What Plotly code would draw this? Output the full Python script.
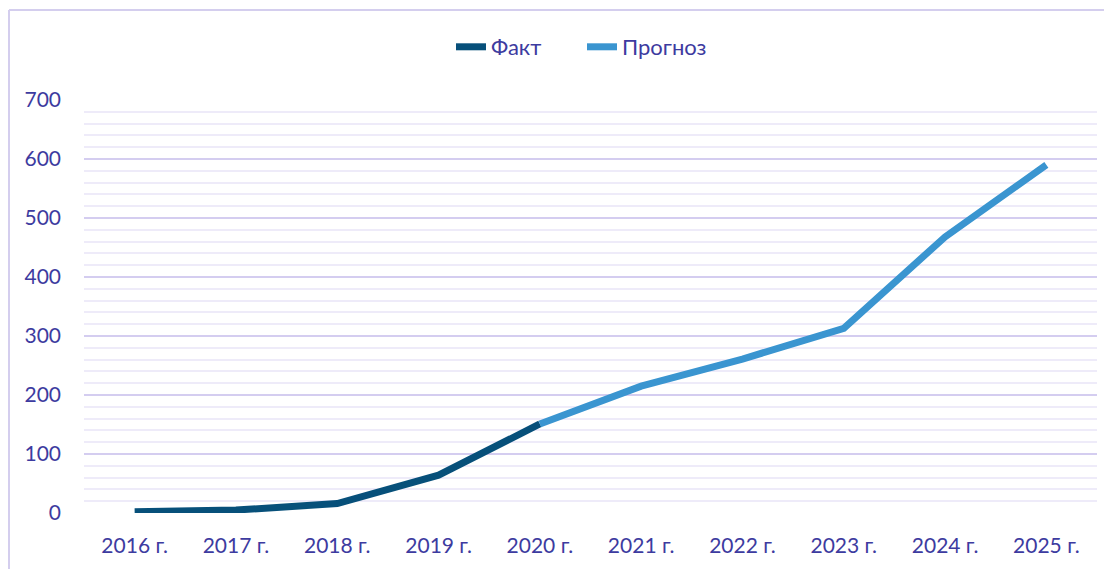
import plotly.graph_objects as go

years = ["2016 г.", "2017 г.", "2018 г.", "2019 г.", "2020 г.", "2021 г.", "2022 г.", "2023 г.", "2024 г.", "2025 г."]
fact_years = years[:5]
fact_values = [2, 5, 16, 64, 151]
forecast_years = years[4:]
forecast_values = [151, 215, 261, 313, 468, 590]

TEXT = "#3D3BA0"
FONT = "Lato"
FS = 21

fig = go.Figure()
fig.add_trace(go.Scatter(x=fact_years, y=fact_values, mode="lines", name="Факт",
                         line=dict(color="#07507A", width=7)))
fig.add_trace(go.Scatter(x=forecast_years, y=forecast_values, mode="lines", name="Прогноз",
                         line=dict(color="#3A95D0", width=7)))

# page body has an 8px margin; figure coordinates are offset by 8px
OFF = 8
W, H = 1104, 561
L, T = 84 - OFF, 100 - OFF
R = W - (1097 - OFF)
B = H - (513 - OFF)
pw, ph = W - L - R, H - T - B

fig.update_layout(
    width=W, height=H,
    margin=dict(l=L, r=R, t=T, b=B),
    paper_bgcolor="white", plot_bgcolor="white",
    font=dict(family=FONT, size=FS, color=TEXT),
    showlegend=True,
    legend=dict(orientation="h", x=(451 - OFF - L) / pw, xanchor="left",
                y=(513 - 47) / ph, yanchor="middle", entrywidth=86,
                font=dict(family=FONT, size=22, color=TEXT), tracegroupgap=0),
    xaxis=dict(type="category", categoryorder="array", categoryarray=years,
               range=[-0.5, len(years) - 0.5], showgrid=False, zeroline=False, showline=False,
               ticks="", ticklabelstandoff=18, tickfont=dict(family=FONT, size=FS, color=TEXT)),
    yaxis=dict(range=[0, 700], dtick=100, tick0=0, showgrid=True, gridcolor="#D4CDF0", gridwidth=1.5,
               zeroline=False, showline=False, ticks="", ticklabelstandoff=22,
               tickfont=dict(family=FONT, size=FS, color=TEXT),
               minor=dict(dtick=20, tick0=0, showgrid=True, gridcolor="#EEEBF9", gridwidth=1.5)),
)

# outer chart border (top and left edges visible)
bx = (8 - OFF - L + 1) / pw
by = (513 - 10) / ph
fig.add_shape(type="line", xref="paper", yref="paper", x0=bx, x1=(W - L) / pw + 0.01, y0=by, y1=by,
              line=dict(color="#D4CEEE", width=2))
fig.add_shape(type="line", xref="paper", yref="paper", x0=bx, x1=bx, y0=by, y1=-B / ph - 0.01,
              line=dict(color="#D4CEEE", width=2))

fig.write_html("out.html")
